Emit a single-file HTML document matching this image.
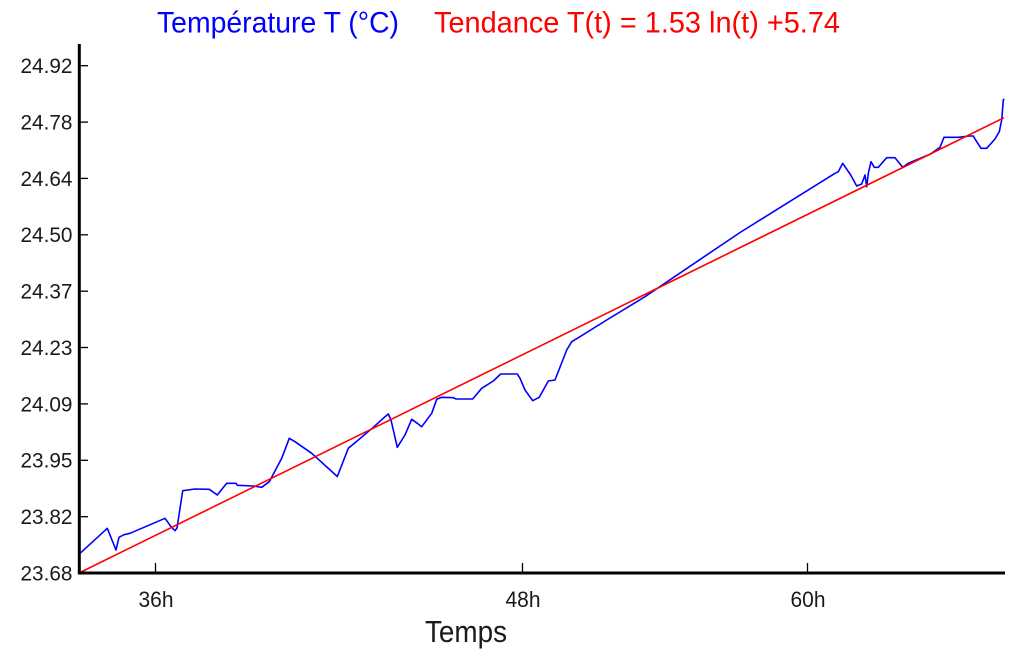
<!DOCTYPE html>
<html>
<head>
<meta charset="utf-8">
<style>
  html, body { margin: 0; padding: 0; background: #ffffff; }
  svg { display: block; }
  text { font-family: "Liberation Sans", "DejaVu Sans", sans-serif; }
</style>
</head>
<body>
<svg width="1025" height="657" viewBox="0 0 1025 657" xmlns="http://www.w3.org/2000/svg">
  <rect x="0" y="0" width="1025" height="657" fill="#ffffff"/>

  <!-- Title -->
  <text x="157" y="32.5" font-size="30" fill="#0000ff" textLength="242" lengthAdjust="spacingAndGlyphs">Température T (°C)</text>
  <text x="434" y="32.5" font-size="30" fill="#ff0000" textLength="406" lengthAdjust="spacingAndGlyphs">Tendance T(t) = 1.53 ln(t) +5.74</text>

  <!-- Y tick labels -->
  <g font-size="21" fill="#1a1a1a" text-anchor="end">
    <text x="72.5" y="73.1" textLength="52" lengthAdjust="spacingAndGlyphs">24.92</text>
    <text x="72.5" y="129.5" textLength="52" lengthAdjust="spacingAndGlyphs">24.78</text>
    <text x="72.5" y="185.8" textLength="52" lengthAdjust="spacingAndGlyphs">24.64</text>
    <text x="72.5" y="242.2" textLength="52" lengthAdjust="spacingAndGlyphs">24.50</text>
    <text x="72.5" y="298.6" textLength="52" lengthAdjust="spacingAndGlyphs">24.37</text>
    <text x="72.5" y="354.9" textLength="52" lengthAdjust="spacingAndGlyphs">24.23</text>
    <text x="72.5" y="411.3" textLength="52" lengthAdjust="spacingAndGlyphs">24.09</text>
    <text x="72.5" y="467.7" textLength="52" lengthAdjust="spacingAndGlyphs">23.95</text>
    <text x="72.5" y="524.1" textLength="52" lengthAdjust="spacingAndGlyphs">23.82</text>
    <text x="72.5" y="580.4" textLength="52" lengthAdjust="spacingAndGlyphs">23.68</text>
  </g>

  <!-- Y ticks -->
  <g stroke="#000" stroke-width="1.3">
    <line x1="79" y1="65.7" x2="88" y2="65.7"/>
    <line x1="79" y1="122.1" x2="88" y2="122.1"/>
    <line x1="79" y1="178.4" x2="88" y2="178.4"/>
    <line x1="79" y1="234.8" x2="88" y2="234.8"/>
    <line x1="79" y1="291.2" x2="88" y2="291.2"/>
    <line x1="79" y1="347.5" x2="88" y2="347.5"/>
    <line x1="79" y1="403.9" x2="88" y2="403.9"/>
    <line x1="79" y1="460.3" x2="88" y2="460.3"/>
    <line x1="79" y1="516.7" x2="88" y2="516.7"/>
  </g>

  <!-- X ticks -->
  <g stroke="#000" stroke-width="1.3">
    <line x1="155.5" y1="563" x2="155.5" y2="573"/>
    <line x1="522.5" y1="563" x2="522.5" y2="573"/>
    <line x1="807.5" y1="563" x2="807.5" y2="573"/>
  </g>

  <!-- X tick labels -->
  <g font-size="22" fill="#1a1a1a" text-anchor="middle">
    <text x="156" y="607" textLength="35" lengthAdjust="spacingAndGlyphs">36h</text>
    <text x="523" y="607" textLength="35" lengthAdjust="spacingAndGlyphs">48h</text>
    <text x="808" y="607" textLength="35" lengthAdjust="spacingAndGlyphs">60h</text>
  </g>

  <!-- X axis title -->
  <text x="425" y="642" font-size="31" fill="#1a1a1a" textLength="82" lengthAdjust="spacingAndGlyphs">Temps</text>

  <!-- Blue data series -->
  <polyline fill="none" stroke="#0000ff" stroke-width="1.6" stroke-linejoin="round" points="
    79,554.3 107.3,528.3 116,550 119,537.3 124,534.7 130,533.3 165,518.3 171,526.7 175,530.7 177,528
    182.7,490.7 195,489 209.3,489.3 217.3,495 226.7,483.3 236,483.3 237.3,485.3 253.3,486 261.7,487.3
    269.3,481.7 281.7,458.3 289.3,438.3 295,441.7 311.7,453.3 337.3,476.5 348.3,448.3 355,442.7
    373.3,427.3 385,416.7 388.3,414 391,420 397.3,447.3 405,435 411.7,419.3 417.3,423.3 421.7,426.7
    431.7,413.3 436.7,399.3 441.7,397.3 453.3,397.7 456,399 472.7,399 481.7,388.3 493.3,381 500.7,374
    517.3,374 520,378.3 525,390 532.7,400.7 539.3,397.3 548.3,381 555,380 566.7,350 571.7,341.7
    580,336.7 606.7,320 645,296.7 740,232.5 835,173.3 838.3,171.7 842.7,163.3 850.7,175 856.7,186
    861.7,184 865,175 866.7,186.7 868.3,173.3 871,161.7 874.3,167.3 878.3,167.3 886.7,157.7 895,157.7
    902.7,167.3 908.3,163.3 930,154.3 940,147.3 944,137.3 958.3,137.3 969.3,136 973.3,136 976.7,141.7
    981,148.3 986.7,148.3 995,139 999.3,131.7 1001.7,120 1003.3,100 1004.3,99"/>

  <!-- Red trend line -->
  <line x1="79" y1="573" x2="1004" y2="117.7" stroke="#ff0000" stroke-width="1.6"/>

  <!-- Axes -->
  <line x1="79.3" y1="44" x2="79.3" y2="574.5" stroke="#000" stroke-width="3"/>
  <line x1="78" y1="573" x2="1005" y2="573" stroke="#000" stroke-width="3"/>
</svg>
</body>
</html>
